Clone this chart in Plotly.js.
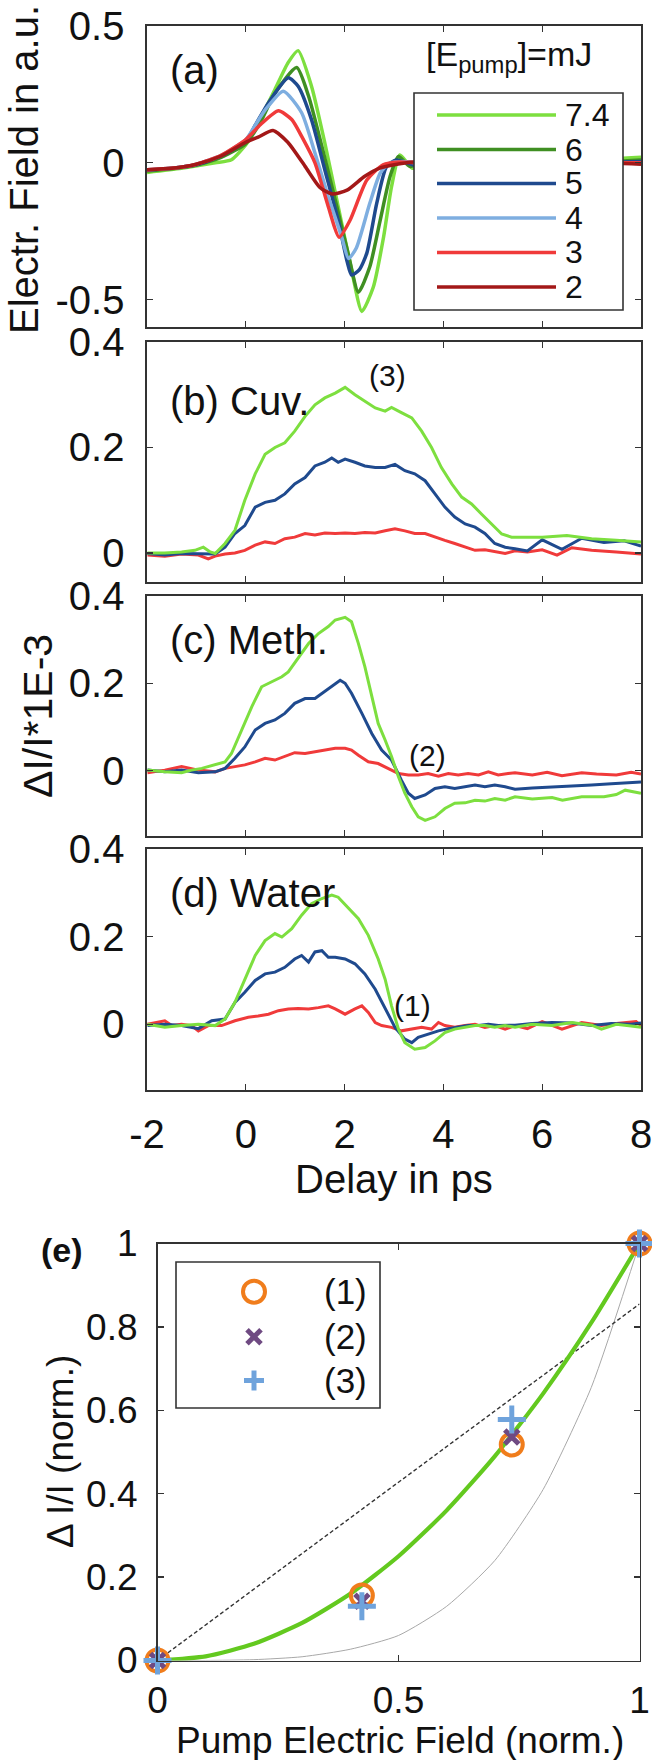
<!DOCTYPE html>
<html><head><meta charset="utf-8">
<script src="https://cdn.plot.ly/plotly-3.0.1.min.js"></script>
<style>html,body{margin:0;padding:0;background:#fff}#chart{width:652px;height:1760px}</style>
</head><body><div id="chart"></div>
<script>
// ---------- tick labels ----------
const delayTicks = [-2, 0, 2, 4, 6, 8];
const delayTickText = ['-2', '0', '2', '4', '6', '8'];
const fieldTicks = [-0.5, 0, 0.5];
const fieldTickText = ['-0.5', '0', '0.5'];
const dITicks = [0, 0.2, 0.4];
const dITickText = ['0', '0.2', '0.4'];
const normXTicks = [0, 0.5, 1];
const normXTickText = ['0', '0.5', '1'];
const normYTicks = [0, 0.2, 0.4, 0.6, 0.8, 1];
const normYTickText = ['0', '0.2', '0.4', '0.6', '0.8', '1'];

// ---------- series names / colours ----------
const pumpLabels = ['7.4', '6', '5', '4', '3', '2'];
const pumpColors = ['#7ddf3f', '#3f8f22', '#1f4a8e', '#7eaee0', '#f03a3a', '#a31818'];

// ---------- (a) THz electric field vs delay ----------
const aX_74 = [-2,-1.3,-0.62,-0.29,0.05,0.32,0.59,0.86,1.06,1.33,1.6,1.87,2.14,2.35,2.58,2.79,2.95,3.12,3.37,3.6,4,5,6,7,8];
const aY_74 = [-0.035,-0.02,0,0.011,0.078,0.17,0.268,0.367,0.41,0.28,0.072,-0.16,-0.39,-0.543,-0.455,-0.27,-0.087,0.029,-0.02,0,0,0,0.005,0.01,0.02];
const aX_6 = [-2,-1.5,-1,-0.5,0,0.3,0.59,1.03,1.27,1.54,1.81,2.07,2.28,2.51,2.72,2.92,3.09,3.32,3.6,4,5,6,7,8];
const aY_6 = [-0.03,-0.022,-0.008,0.02,0.07,0.15,0.255,0.348,0.244,0.06,-0.136,-0.33,-0.473,-0.38,-0.21,-0.05,0.023,-0.013,0,0,0,0,0,0.01];
const aX_5 = [-2,-1.5,-1,-0.5,0,0.2,0.46,0.86,1.06,1.33,1.6,1.87,2.05,2.14,2.3,2.45,2.65,2.85,3.05,3.4,3.7,4,5,6,7,8];
const aY_5 = [-0.027,-0.02,-0.007,0.025,0.08,0.14,0.22,0.311,0.28,0.158,-0.026,-0.21,-0.36,-0.41,-0.39,-0.33,-0.148,-0.013,0.01,-0.008,0,0,0,0,0,0.005];
const aX_4 = [-2,-1.5,-1,-0.5,0,0.2,0.4,0.76,1.13,1.4,1.67,1.94,2.08,2.24,2.51,2.72,2.92,3.2,3.5,4,5,6,7,8];
const aY_4 = [-0.025,-0.02,-0.005,0.027,0.085,0.14,0.195,0.262,0.183,0.036,-0.124,-0.27,-0.35,-0.31,-0.148,-0.038,0,0.005,0,0,0,0,0,0];
const aX_3 = [-2,-1.5,-1,-0.5,0,0.3,0.66,0.93,1.15,1.4,1.67,1.89,2.11,2.45,2.78,3.1,3.5,4,5,6,7,8];
const aY_3 = [-0.025,-0.02,-0.005,0.027,0.085,0.14,0.19,0.158,0.09,0,-0.16,-0.272,-0.21,-0.063,-0.007,0.003,0,0,0,0,0,0];
const aX_2 = [-2,-1.5,-1,-0.5,0,0.25,0.55,0.85,1.2,1.5,1.75,2.05,2.4,2.7,3,3.4,4,5,6,7,8];
const aY_2 = [-0.025,-0.02,-0.005,0.025,0.075,0.094,0.118,0.075,-0.013,-0.09,-0.114,-0.1,-0.05,-0.02,-0.007,0.003,0,0,0,0,-0.005];

// ---------- (b) cuvette ----------
const bX_74 = [-1.99,-1.64,-1.30,-1.03,-0.86,-0.72,-0.62,-0.42,-0.22,-0.02,0.19,0.39,0.59,0.79,0.99,1.20,1.40,1.60,1.81,2.01,2.21,2.41,2.62,2.82,2.95,3.15,3.36,3.56,3.76,3.96,4.17,4.37,4.57,4.77,4.98,5.18,5.38,5.6,6.0,6.5,7.0,7.5,8.0];
const bY_74 = [0.0,0.0,0.002,0.005,0.011,0.002,-0.001,0.018,0.043,0.1,0.15,0.187,0.2,0.209,0.231,0.259,0.281,0.294,0.303,0.314,0.3,0.288,0.275,0.269,0.276,0.266,0.256,0.231,0.2,0.162,0.131,0.106,0.093,0.074,0.055,0.036,0.03,0.03,0.03,0.033,0.027,0.024,0.021];
const bX_5 = [-1.99,-1.64,-1.30,-0.96,-0.62,-0.42,-0.22,-0.02,0.19,0.39,0.59,0.79,0.99,1.20,1.40,1.60,1.74,1.87,2.01,2.21,2.41,2.62,2.82,3.02,3.22,3.42,3.63,3.83,4.03,4.23,4.44,4.64,4.84,5.04,5.25,5.45,5.7,6.0,6.4,6.8,7.25,7.66,8.0];
const bY_5 = [-0.001,-0.004,-0.001,-0.002,-0.002,0.011,0.037,0.052,0.087,0.096,0.1,0.112,0.131,0.143,0.165,0.172,0.18,0.172,0.178,0.172,0.165,0.162,0.162,0.168,0.156,0.15,0.137,0.112,0.087,0.068,0.055,0.049,0.037,0.018,0.011,0.008,0.004,0.025,0.007,0.028,0.02,0.023,0.013];
const bX_3 = [-1.99,-1.64,-1.30,-0.96,-0.76,-0.62,-0.42,-0.22,-0.02,0.19,0.39,0.59,0.79,0.99,1.20,1.40,1.60,1.81,2.01,2.21,2.41,2.62,2.82,3.02,3.22,3.42,3.63,3.83,4.03,4.23,4.44,4.64,4.84,5.04,5.25,5.45,5.7,6.0,6.3,6.6,7.0,7.5,8.0];
const bY_3 = [-0.004,-0.006,-0.002,-0.004,-0.011,-0.006,-0.002,0.0,0.005,0.015,0.021,0.018,0.027,0.03,0.037,0.034,0.038,0.037,0.038,0.037,0.039,0.038,0.042,0.046,0.042,0.037,0.037,0.03,0.024,0.018,0.011,0.005,0.006,0.002,-0.001,0.004,0.002,0.006,-0.004,0.01,0.005,0.002,-0.002];

// ---------- (c) methanol ----------
const cX_74 = [-1.99,-1.64,-1.30,-1.10,-0.89,-0.62,-0.42,-0.29,-0.08,0.12,0.32,0.52,0.73,0.86,1.06,1.27,1.47,1.67,1.81,2.01,2.14,2.28,2.41,2.55,2.68,2.82,2.95,3.09,3.22,3.36,3.49,3.63,3.83,4.03,4.23,4.44,4.64,4.84,5.04,5.25,5.45,5.8,6.2,6.41,6.8,7.25,7.5,7.68,8.0];
const cY_74 = [0.001,-0.003,-0.005,0.001,0.005,0.013,0.02,0.039,0.093,0.146,0.192,0.204,0.215,0.226,0.257,0.291,0.314,0.33,0.345,0.351,0.341,0.291,0.238,0.169,0.108,0.07,0.032,-0.014,-0.052,-0.083,-0.106,-0.114,-0.106,-0.087,-0.075,-0.074,-0.068,-0.07,-0.064,-0.068,-0.06,-0.065,-0.062,-0.068,-0.06,-0.06,-0.055,-0.045,-0.052];
const cX_5 = [-1.99,-1.64,-1.30,-0.96,-0.62,-0.42,-0.22,-0.02,0.19,0.39,0.59,0.79,0.99,1.20,1.40,1.54,1.74,1.91,2.01,2.14,2.35,2.55,2.75,2.95,3.15,3.29,3.42,3.63,3.83,4.03,4.23,4.44,4.64,4.84,5.04,5.25,5.45,5.8,6.2,6.6,7.0,7.4,7.8,8.0];
const cY_5 = [0.001,-0.003,0.001,-0.005,-0.003,0.005,0.028,0.054,0.093,0.108,0.116,0.131,0.154,0.165,0.165,0.177,0.192,0.207,0.2,0.177,0.131,0.085,0.047,0.024,-0.022,-0.052,-0.064,-0.056,-0.041,-0.037,-0.041,-0.037,-0.033,-0.037,-0.033,-0.037,-0.043,-0.04,-0.038,-0.035,-0.033,-0.03,-0.028,-0.026];
const cX_3 = [-1.99,-1.64,-1.30,-0.96,-0.62,-0.42,-0.22,-0.02,0.19,0.39,0.59,0.79,0.99,1.20,1.40,1.60,1.81,2.01,2.14,2.28,2.48,2.68,2.88,3.09,3.29,3.49,3.69,3.90,4.10,4.30,4.50,4.71,4.91,5.11,5.31,5.45,5.8,6.1,6.4,6.8,7.1,7.5,7.8,8.0];
const cY_3 = [-0.005,0.001,0.009,0.001,-0.003,0.005,0.009,0.013,0.02,0.028,0.024,0.032,0.041,0.039,0.043,0.048,0.051,0.051,0.047,0.035,0.02,0.016,0.005,-0.007,-0.01,-0.01,-0.007,-0.013,-0.007,-0.01,-0.007,-0.01,-0.003,-0.01,-0.007,-0.005,-0.01,-0.004,-0.012,-0.005,-0.008,-0.01,-0.004,-0.008];

// ---------- (d) water ----------
const dX_74 = [-1.99,-1.64,-1.30,-0.96,-0.62,-0.42,-0.22,-0.02,0.19,0.39,0.59,0.73,0.93,1.13,1.33,1.54,1.74,1.87,2.08,2.28,2.48,2.68,2.82,2.95,3.09,3.22,3.42,3.63,3.83,4.03,4.23,4.44,4.64,4.84,5.04,5.25,5.45,5.8,6.2,6.6,7.0,7.2,7.5,7.8,8.0];
const dY_74 = [0.0,-0.007,-0.003,0.0,-0.003,0.012,0.05,0.103,0.157,0.191,0.207,0.199,0.218,0.249,0.275,0.287,0.295,0.29,0.264,0.241,0.203,0.149,0.103,0.042,-0.011,-0.042,-0.057,-0.053,-0.038,-0.019,-0.011,-0.007,-0.003,-0.003,-0.007,-0.003,-0.007,0.0,-0.003,0.004,-0.002,-0.011,0.0,-0.004,-0.007];
const dX_5 = [-1.99,-1.64,-1.30,-0.96,-0.69,-0.42,-0.22,-0.02,0.19,0.39,0.59,0.79,0.99,1.13,1.27,1.40,1.54,1.67,1.81,2.01,2.21,2.41,2.62,2.82,3.02,3.22,3.36,3.49,3.69,3.90,4.10,4.30,4.50,4.71,4.91,5.11,5.45,5.8,6.2,6.6,7.0,7.4,7.8,8.0];
const dY_5 = [-0.003,0.0,-0.003,-0.01,0.008,0.012,0.05,0.073,0.1,0.115,0.119,0.13,0.149,0.157,0.142,0.165,0.168,0.153,0.153,0.149,0.138,0.115,0.08,0.035,-0.007,-0.034,-0.042,-0.03,-0.023,-0.015,-0.01,-0.007,-0.003,-0.003,0.0,-0.003,-0.002,0.002,0.004,0.003,-0.003,0.002,0.0,0.003];
const dX_3 = [-1.99,-1.77,-1.64,-1.50,-1.30,-1.10,-0.96,-0.76,-0.49,-0.22,0.05,0.25,0.46,0.66,0.86,1.06,1.27,1.47,1.67,1.81,2.01,2.21,2.35,2.48,2.62,2.75,2.95,3.15,3.36,3.56,3.76,3.90,4.03,4.23,4.44,4.64,4.84,5.04,5.25,5.45,5.7,6.0,6.4,6.8,7.2,7.5,7.9,8.0];
const dY_3 = [0.0,0.004,0.008,-0.003,0.0,-0.003,-0.015,-0.003,-0.003,0.008,0.016,0.019,0.023,0.031,0.035,0.036,0.035,0.038,0.042,0.035,0.023,0.035,0.042,0.027,0.004,-0.003,-0.007,-0.015,-0.011,-0.007,-0.011,0.004,-0.003,-0.007,-0.003,0.0,-0.007,-0.003,-0.011,-0.003,-0.01,0.006,-0.011,0.004,-0.003,0.002,0.006,-0.003];

// ---------- (e) normalised signal vs normalised pump field ----------
const pumpFieldNorm = [0, 0.424, 0.735, 1];
const signal1 = [0, 0.156, 0.518, 1];
const signal2 = [0, 0.142, 0.536, 1];
const signal3 = [0, 0.13, 0.578, 1];
const markerLabels = ['(1)', '(2)', '(3)'];
const markerColors = ['#f07d1c', '#6f4a82', '#6fa3dc'];
const fitX = [0, 0.1, 0.2, 0.3, 0.4, 0.5, 0.6, 0.7, 0.8, 0.9, 1];
const fitGreen = [0, 0.01, 0.04, 0.09, 0.16, 0.25, 0.36, 0.49, 0.64, 0.81, 1];
const fitGray = [0, 0.0001, 0.002, 0.009, 0.027, 0.06, 0.13, 0.24, 0.41, 0.655, 1];
const linX = [0, 1];
const linY = [0, 0.855];

// ---------- helpers ----------
const W = 652, H = 1760;
const fx = p => p / W;
const fy = p => 1 - p / H;
const FONT = '"Liberation Sans", Arial, Helvetica, sans-serif';
const TXT = '#111';
const TICK_TOP = 40;   // tick label size, panels (a)-(d)
const TICK_E = 37;     // tick label size, panel (e)

function lineTrace(x, y, color, width, xa, ya, name, shape) {
  return {x: x, y: y, type: 'scatter', mode: 'lines', name: name,
    line: {color: color, width: width, shape: shape || 'linear', smoothing: 0.6},
    xaxis: xa, yaxis: ya, showlegend: false, hoverinfo: 'skip'};
}

const traces = [];
// (a)
const aXs = [aX_74, aX_6, aX_5, aX_4, aX_3, aX_2];
const aYs = [aY_74, aY_6, aY_5, aY_4, aY_3, aY_2];
for (let i = 0; i < 6; i++) {
  traces.push(lineTrace(aXs[i], aYs[i], pumpColors[i], 3.5, 'x', 'y', pumpLabels[i] + ' mJ', 'spline'));
}
// (b)-(d): series 7.4 (green), 5 (blue), 3 (red)
const bcd = [
  {xa: 'x2', ya: 'y2', s: [[bX_74, bY_74], [bX_5, bY_5], [bX_3, bY_3]]},
  {xa: 'x3', ya: 'y3', s: [[cX_74, cY_74], [cX_5, cY_5], [cX_3, cY_3]]},
  {xa: 'x4', ya: 'y4', s: [[dX_74, dY_74], [dX_5, dY_5], [dX_3, dY_3]]}
];
const bcdColorIdx = [0, 2, 4];
bcd.forEach(p => {
  [2, 1, 0].forEach(k => {
    const ci = bcdColorIdx[k];
    traces.push(lineTrace(p.s[k][0], p.s[k][1], pumpColors[ci], 3, p.xa, p.ya, pumpLabels[ci] + ' mJ'));
  });
});
// (e)
traces.push(lineTrace(fitX, fitGray, '#a8a8a8', 1, 'x5', 'y5', 'higher order', 'spline'));
traces.push({x: linX, y: linY, type: 'scatter', mode: 'lines', name: 'linear',
  line: {color: '#333', width: 1.4, dash: '4px,2.5px'}, xaxis: 'x5', yaxis: 'y5', showlegend: false, hoverinfo: 'skip'});
traces.push(lineTrace(fitX, fitGreen, '#63c91f', 4.2, 'x5', 'y5', 'quadratic', 'spline'));
const sigs = [signal1, signal2, signal3];
const syms = [
  {symbol: 'circle-open', size: 22, line: {width: 4, color: markerColors[0]}, color: markerColors[0]},
  {symbol: 'x-thin-open', size: 14, line: {width: 5, color: markerColors[1]}, color: markerColors[1]},
  {symbol: 'cross-thin-open', size: 20, line: {width: 5, color: markerColors[2]}, color: markerColors[2]}
];
for (let i = 0; i < 3; i++) {
  traces.push({x: pumpFieldNorm, y: sigs[i], type: 'scatter', mode: 'markers', name: markerLabels[i],
    marker: syms[i], cliponaxis: false, xaxis: 'x5', yaxis: 'y5', showlegend: false, hoverinfo: 'skip'});
}

// ---------- axes ----------
const ax = {showline: true, mirror: 'ticks', linecolor: '#333', linewidth: 1.6,
  ticks: 'inside', ticklen: 6, tickwidth: 1.3, tickcolor: '#333',
  showgrid: false, zeroline: false, fixedrange: true, ticklabeloverflow: 'allow',
  tickfont: {family: FONT, size: TICK_TOP, color: TXT}};
const xDom = [fx(147), fx(641)];
function xAx(anchor, showLabels) {
  return Object.assign({}, ax, {domain: xDom, anchor: anchor, range: [-2, 8],
    tickmode: 'array', tickvals: delayTicks, ticktext: delayTickText,
    showticklabels: showLabels, ticklabelstandoff: 8});
}
function yAx(anchor, top, bottom, range, tv, tt) {
  return Object.assign({}, ax, {domain: [fy(bottom), fy(top)], anchor: anchor, range: range,
    tickmode: 'array', tickvals: tv, ticktext: tt, ticklabelstandoff: 13});
}
const eTop = 1243.5, eBottom = 1660.5;

const layout = {
  width: W, height: H,
  margin: {l: 0, r: 0, t: 0, b: 0, pad: 0},
  paper_bgcolor: '#fff', plot_bgcolor: '#fff',
  font: {family: FONT, color: TXT},
  showlegend: false,
  xaxis: xAx('y', false),
  yaxis: yAx('x', 26, 327, [-0.6, 0.5], fieldTicks, fieldTickText),
  xaxis2: xAx('y2', false),
  yaxis2: yAx('x2', 342, 582, [-0.055, 0.4], dITicks, dITickText),
  xaxis3: xAx('y3', false),
  yaxis3: yAx('x3', 596, 836, [-0.15, 0.4], dITicks, dITickText),
  xaxis4: xAx('y4', true),
  yaxis4: yAx('x4', 849, 1090, [-0.15, 0.4], dITicks, dITickText),
  xaxis5: Object.assign({}, ax, {domain: [fx(157.5), fx(639.5)], anchor: 'y5', range: [0, 1],
    tickmode: 'array', tickvals: normXTicks, ticktext: normXTickText, ticklabelstandoff: 6,
    tickfont: {family: FONT, size: TICK_E, color: TXT}}),
  yaxis5: Object.assign({}, ax, {domain: [fy(eBottom), fy(eTop)], anchor: 'x5', range: [0, 1],
    tickmode: 'array', tickvals: normYTicks, ticktext: normYTickText, ticklabelstandoff: 11,
    tickfont: {family: FONT, size: TICK_E, color: TXT}}),
  shapes: [],
  annotations: []
};

function note(text, px, py, size, opts) {
  layout.annotations.push(Object.assign({text: text, xref: 'paper', yref: 'paper',
    x: fx(px), y: fy(py), xanchor: 'left', yanchor: 'middle', showarrow: false,
    font: {family: FONT, size: size, color: TXT}}, opts || {}));
}

// panel labels & annotations
note('(a)', 168, 70, 40);
note('(b) Cuv.', 168, 401, 40);
note('(3)', 367, 375, 30);
note('(c) Meth.', 168, 640, 40);
note('(2)', 407, 755, 30);
note('(d) Water', 168, 893, 40);
note('(1)', 392, 1005, 30);
note('[E<sub>pump</sub>]=mJ', 424, 57, 34);
// axis titles
note('Electr. Field in a.u.', 24, 170, 40, {xanchor: 'center', textangle: -90});
note('\u0394I/I*1E-3', 38, 716, 41, {xanchor: 'center', textangle: -90});
note('Delay in ps', 394, 1179, 40, {xanchor: 'center'});
note('<b>(e)</b>', 62, 1250, 34, {xanchor: 'center'});
note('\u0394 I/I (norm.)', 60, 1452, 37, {xanchor: 'center', textangle: -90});
note('Pump Electric Field (norm.)', 400, 1740, 37, {xanchor: 'center'});

// legend (a)
layout.shapes.push({type: 'rect', xref: 'paper', yref: 'paper', x0: fx(414), x1: fx(623), y0: fy(310), y1: fy(93),
  line: {color: '#333', width: 1.6}, fillcolor: '#fff', layer: 'above'});
const legY = [115, 149.5, 183.5, 218, 252.5, 287];
for (let i = 0; i < 6; i++) {
  layout.shapes.push({type: 'line', xref: 'paper', yref: 'paper', x0: fx(437), x1: fx(556), y0: fy(legY[i]), y1: fy(legY[i]),
    line: {color: pumpColors[i], width: 3.6}, layer: 'above'});
  note(pumpLabels[i], 563, legY[i], 32);
}
// legend (e)
const eLegTop = 1262, eLegBottom = 1408;
layout.shapes.push({type: 'rect', xref: 'paper', yref: 'paper', x0: fx(176), x1: fx(380), y0: fy(eLegBottom), y1: fy(eLegTop),
  line: {color: '#333', width: 1.6}, fillcolor: '#fff', layer: 'above'});
const eLegY = [1291.7, 1336.7, 1380.5];
const mx = 254;
layout.shapes.push({type: 'circle', xref: 'paper', yref: 'paper', x0: fx(mx - 11), x1: fx(mx + 11),
  y0: fy(eLegY[0] + 11), y1: fy(eLegY[0] - 11), line: {color: markerColors[0], width: 4}, layer: 'above'});
layout.shapes.push({type: 'line', xref: 'paper', yref: 'paper', x0: fx(mx - 7), x1: fx(mx + 7),
  y0: fy(eLegY[1] - 7), y1: fy(eLegY[1] + 7), line: {color: markerColors[1], width: 5}, layer: 'above'});
layout.shapes.push({type: 'line', xref: 'paper', yref: 'paper', x0: fx(mx - 7), x1: fx(mx + 7),
  y0: fy(eLegY[1] + 7), y1: fy(eLegY[1] - 7), line: {color: markerColors[1], width: 5}, layer: 'above'});
layout.shapes.push({type: 'line', xref: 'paper', yref: 'paper', x0: fx(mx - 10), x1: fx(mx + 10),
  y0: fy(eLegY[2]), y1: fy(eLegY[2]), line: {color: markerColors[2], width: 5}, layer: 'above'});
layout.shapes.push({type: 'line', xref: 'paper', yref: 'paper', x0: fx(mx), x1: fx(mx),
  y0: fy(eLegY[2] - 10), y1: fy(eLegY[2] + 10), line: {color: markerColors[2], width: 5}, layer: 'above'});
for (let i = 0; i < 3; i++) note(markerLabels[i], 322, eLegY[i], 35);

Plotly.newPlot('chart', traces, layout, {staticPlot: true, displayModeBar: false});
</script>
</body></html>
